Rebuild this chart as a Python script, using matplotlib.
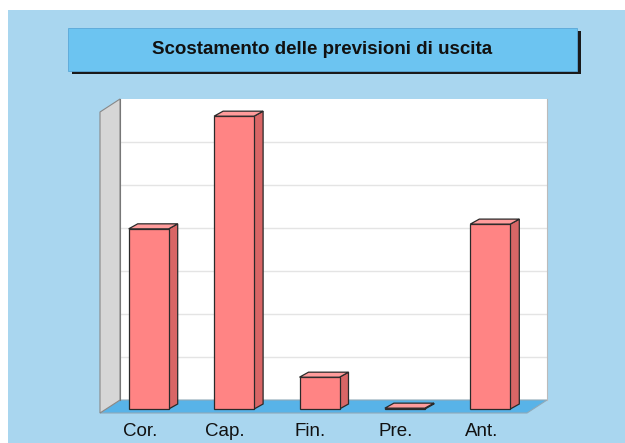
import matplotlib
matplotlib.use("Agg")
import matplotlib.pyplot as plt
from matplotlib.patches import Rectangle, Polygon

categories = ["Cor.", "Cap.", "Fin.", "Pre.", "Ant."]
values = [4.19, 6.81, 0.74, 0.02, 4.30]
title = "Scostamento delle previsioni di uscita"

W, H = 625, 443
fig = plt.figure(figsize=(W / 100, H / 100), dpi=100)
fig.patch.set_facecolor("white")

# background panel
bg = Rectangle((8 / W, 0), 1, 1 - 10 / H, transform=fig.transFigure,
               facecolor="#a9d6ef", edgecolor="none", zorder=-2)
fig.patches.append(bg)

# title box with shadow
bx0, bx1, by0, by1 = 68, 577, 28, 71
shadow = Rectangle(((bx0 + 4) / W, 1 - (by1 + 3) / H), (bx1 - bx0) / W, (by1 - by0) / H,
                   transform=fig.transFigure, facecolor="#1a1a1a", edgecolor="none", zorder=-1)
box = Rectangle((bx0 / W, 1 - by1 / H), (bx1 - bx0) / W, (by1 - by0) / H,
                transform=fig.transFigure, facecolor="#6cc4f1", edgecolor="#5aa8d8",
                linewidth=0.6, zorder=-1)
fig.patches.extend([shadow, box])
fig.text((bx0 + bx1) / 2 / W, 1 - 49 / H, title, ha="center", va="center",
         fontsize=13.5, fontweight="bold", family="Liberation Sans", color="#111111", zorder=3)

# axes = back wall
wl, wr, wt, wb = 120, 547, 99, 400
ax = fig.add_axes([wl / W, 1 - wb / H, (wr - wl) / W, (wb - wt) / H])
ax.set_zorder(5)
n = len(categories)
ymax = 7
ax.set_xlim(0, n)
ax.set_ylim(0, ymax)
ax.set_facecolor("white")
for s in ax.spines.values():
    s.set_visible(False)
ax.spines["left"].set_visible(True)
ax.spines["left"].set_color("#777777")
ax.spines["right"].set_visible(True)
ax.spines["right"].set_color("#bbbbbb")
ax.set_xticks([])
ax.set_yticks([])
for g in range(1, ymax):
    ax.axhline(g, color="#e4e4e4", linewidth=1.0, zorder=1)

sx = n / (wr - wl)          # data units per pixel (x)
sy = ymax / (wb - wt)       # data units per pixel (y)

# depth of the floor (back -> front), in pixels
DX, DY = -20, 13
fdx, fdy = DX * sx, -DY * sy

floor = Polygon([(0, 0), (n, 0), (n + fdx, fdy), (fdx, fdy)], closed=True,
                facecolor="#58b3e8", edgecolor="#8fa9b8", linewidth=0.8,
                clip_on=False, zorder=2)
ax.add_patch(floor)
side = Polygon([(0, 0), (0, ymax), (fdx, ymax + fdy), (fdx, fdy)], closed=True,
               facecolor="#d6d6d6", edgecolor="#888888", linewidth=0.8,
               clip_on=False, zorder=2)
ax.add_patch(side)

# bars
centers = [i + 0.5 for i in range(n)]
fx, fy = -14 * sx, -9 * sy     # bar front plane offset
bdx, bdy = 9 * sx, 5 * sy      # bar depth
bw = 40 * sx
front_col, side_col, top_col, edge = "#ff8484", "#d96666", "#ff9c9c", "#2a2a2a"

xs = [c + fx for c in centers]
ax.bar(xs, values, width=bw, bottom=fy, color=front_col, edgecolor=edge,
       linewidth=0.9, clip_on=False, zorder=4)
for x, v in zip(xs, values):
    xl, xr = x - bw / 2, x + bw / 2
    top = fy + v
    ax.add_patch(Polygon([(xr, fy), (xr, top), (xr + bdx, top + bdy), (xr + bdx, fy + bdy)],
                         closed=True, facecolor=side_col, edgecolor=edge, linewidth=0.9,
                         clip_on=False, zorder=3))
    ax.add_patch(Polygon([(xl, top), (xr, top), (xr + bdx, top + bdy), (xl + bdx, top + bdy)],
                         closed=True, facecolor=top_col, edgecolor=edge, linewidth=0.9,
                         clip_on=False, zorder=5))

# category labels at the floor front
for c, lab in zip(centers, categories):
    ax.text(c + fdx - 3 * sx, -31 * sy, lab, ha="center", va="center",
            fontsize=13.5, family="Liberation Sans", color="#111111", clip_on=False)

fig.savefig("out.png", dpi=100, facecolor=fig.get_facecolor())
